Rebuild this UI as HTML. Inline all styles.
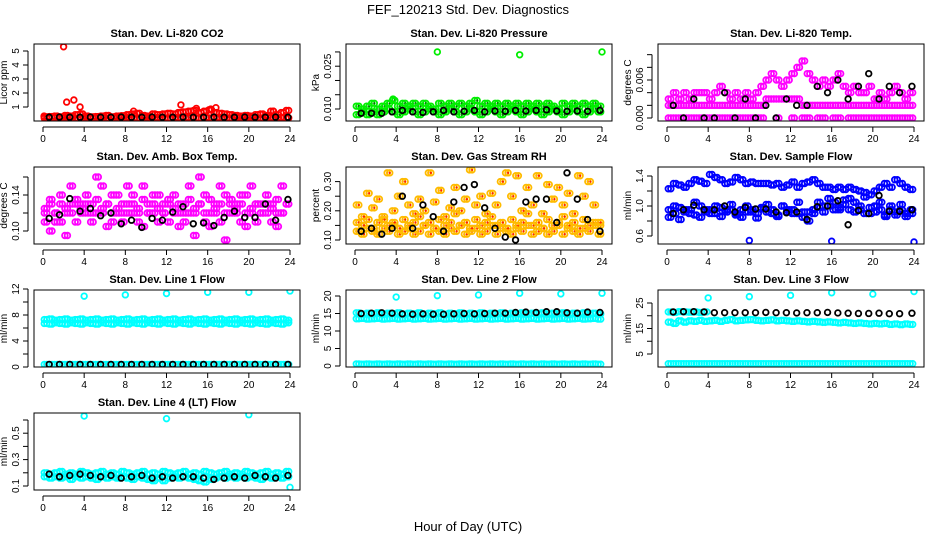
<!DOCTYPE html>
<html><head><meta charset="utf-8"><style>
body{margin:0;background:#fff;}
svg{display:block;font-family:"Liberation Sans",sans-serif;}
</style></head><body>
<svg id="c" width="936" height="540" viewBox="0 0 936 540">
<text x="468" y="14" text-anchor="middle" font-size="13">FEF_120213  Std. Dev. Diagnostics</text>
<text x="468" y="531" text-anchor="middle" font-size="13">Hour of Day (UTC)</text>
</svg>
<script>
// shared time grids (hours)
const hours48 = [0.25,0.75,1.25,1.75,2.25,2.75,3.25,3.75,4.25,4.75,5.25,5.75,6.25,6.75,7.25,7.75,8.25,8.75,9.25,9.75,10.25,10.75,11.25,11.75,12.25,12.75,13.25,13.75,14.25,14.75,15.25,15.75,16.25,16.75,17.25,17.75,18.25,18.75,19.25,19.75,20.25,20.75,21.25,21.75,22.25,22.75,23.25,23.75];
const hoursB = [0.6,1.6,2.6,3.6,4.6,5.6,6.6,7.6,8.6,9.6,10.6,11.6,12.6,13.6,14.6,15.6,16.6,17.6,18.6,19.6,20.6,21.6,22.6,23.8];
const xTicks = [0,4,8,12,16,20,24];

// CO2
const co2A = [0.3,0.32,0.35,0.3,0.4,0.35,0.45,0.5,0.35,0.3,0.32,0.35,0.4,0.3,0.35,0.38,0.45,0.5,0.55,0.4,0.35,0.5,0.45,0.5,0.55,0.5,0.6,0.65,0.7,0.75,0.6,0.7,0.8,0.6,0.55,0.5,0.45,0.4,0.35,0.4,0.35,0.45,0.5,0.4,0.7,0.45,0.6,0.75];
const co2B = [0.2,0.22,0.25,0.2,0.25,0.22,0.2,0.25,0.22,0.2,0.25,0.22,0.2,0.25,0.22,0.2,0.25,0.22,0.2,0.25,0.22,0.2,0.25,0.22,0.2,0.25,0.22,0.2,0.25,0.22,0.2,0.25,0.22,0.2,0.25,0.22,0.2,0.25,0.22,0.2,0.25,0.22,0.2,0.25,0.22,0.2,0.25,0.22];
const co2K = [0.27,0.28,0.27,0.27,0.28,0.27,0.27,0.28,0.27,0.27,0.28,0.27,0.27,0.28,0.27,0.27,0.28,0.27,0.27,0.28,0.27,0.27,0.28,0.27];
const co2OutX = [2,2.3,3,3.6,13.4,14.9,16.3,16.8,0.1,8.8,22.4];
const co2OutY = [5.3,1.35,1.5,1.0,1.15,0.9,0.85,0.95,0.35,0.7,0.7];

// Pressure
const prA = [0.011,0.010,0.011,0.012,0.010,0.011,0.012,0.013,0.011,0.012,0.011,0.012,0.011,0.012,0.011,0.010,0.012,0.011,0.012,0.011,0.012,0.011,0.012,0.013,0.011,0.012,0.011,0.012,0.011,0.012,0.011,0.012,0.011,0.012,0.011,0.012,0.011,0.012,0.011,0.010,0.012,0.011,0.012,0.011,0.012,0.011,0.012,0.011];
const prB = [0.008,0.009,0.008,0.009,0.008,0.009,0.010,0.009,0.008,0.009,0.010,0.009,0.008,0.009,0.010,0.009,0.008,0.009,0.010,0.009,0.008,0.009,0.010,0.009,0.008,0.009,0.010,0.009,0.008,0.009,0.010,0.009,0.008,0.009,0.010,0.009,0.008,0.009,0.010,0.009,0.008,0.009,0.010,0.009,0.008,0.009,0.010,0.009];
const prK = [0.0085,0.0085,0.0085,0.0090,0.0095,0.0090,0.0088,0.0090,0.0095,0.0090,0.0092,0.0095,0.0090,0.0093,0.0092,0.0095,0.0093,0.0095,0.0097,0.0093,0.0092,0.0093,0.0092,0.0095];
const prOutX = [8,16,24,3.7];
const prOutY = [0.030,0.029,0.030,0.0135];

// Li-820 Temp
const tpA = [0,0,0,0,0,0,0,0,0,0,0,0,0,0,0,0,0,0,0,null,null,0,null,null,0,null,0,0,null,0,0,null,0,0,null,0,0,0,0,0,0,0,0,0,0,0,0,0];
const tpB = [0.002,0.002,0.002,0.002,0.002,0.002,0.002,0.002,0.002,0.002,0.002,0.002,0.002,0.002,0.002,0.002,0.002,0.002,0.002,0.003,0.003,0.003,0.003,0.003,0.003,0.003,0.002,0.002,0.002,0.002,0.002,0.002,0.002,0.002,0.002,0.002,0.002,0.002,0.002,0.002,0.002,0.002,0.002,0.002,0.002,0.002,0.002,0.002];
const tpC = [0.003,0.004,0.003,0.004,0.003,0.004,0.004,0.004,0.003,0.004,0.005,0.004,0.003,0.004,0.003,0.004,0.003,0.004,0.005,0.006,0.007,0.006,0.005,0.006,0.007,0.008,0.009,0.007,0.006,0.005,0.006,0.005,0.006,0.007,0.005,0.004,0.005,0.004,0.004,0.005,0.003,0.004,0.003,0.004,0.005,0.004,0.003,0.004];
const tpK = [0.002,0,0.003,0,0,0.004,0,0.003,0,0.002,0,0.003,0.002,0.002,0.005,0.004,0.006,0.003,0.005,0.007,0.003,0.005,0.004,0.005];

// Amb box temp
const abA = [0.12,0.13,0.11,0.14,0.12,0.15,0.13,0.12,0.14,0.13,0.12,0.15,0.13,0.12,0.14,0.12,0.13,0.14,0.12,0.15,0.13,0.12,0.14,0.12,0.13,0.14,0.12,0.13,0.15,0.12,0.13,0.14,0.12,0.13,0.15,0.14,0.12,0.13,0.14,0.12,0.15,0.13,0.12,0.14,0.13,0.12,0.15,0.13];
const abB = [0.11,0.10,0.12,0.11,0.095,0.12,0.11,0.13,0.12,0.11,0.16,0.12,0.105,0.11,0.12,0.11,0.15,0.12,0.11,0.105,0.12,0.14,0.11,0.12,0.11,0.12,0.105,0.11,0.12,0.095,0.16,0.11,0.105,0.12,0.11,0.09,0.13,0.12,0.11,0.105,0.12,0.11,0.13,0.12,0.11,0.105,0.12,0.08];
const abC = [0.125,0.135,0.12,0.13,0.125,0.13,0.135,0.125,0.13,0.12,0.135,0.125,0.13,0.14,0.125,0.13,0.12,0.13,0.125,0.135,0.12,0.13,0.125,0.13,0.135,0.125,0.13,0.12,0.135,0.125,0.13,0.12,0.135,0.125,0.13,0.12,0.135,0.125,0.13,0.14,0.125,0.13,0.12,0.13,0.125,0.135,0.12,0.13];
const abK = [0.114,0.118,0.136,0.122,0.125,0.117,0.12,0.108,0.112,0.104,0.114,0.112,0.121,0.127,0.108,0.109,0.106,0.115,0.122,0.115,0.115,0.13,0.112,0.135];

// Gas stream RH
const rhA = [0.13,0.12,0.14,0.13,0.12,0.14,0.13,0.15,0.12,0.13,0.14,0.12,0.13,0.15,0.12,0.14,0.13,0.12,0.14,0.13,0.15,0.12,0.13,0.14,0.12,0.13,0.15,0.12,0.14,0.13,0.12,0.14,0.13,0.15,0.12,0.13,0.14,0.12,0.13,0.15,0.12,0.14,0.13,0.12,0.14,0.13,0.15,0.12];
const rhB = [0.22,0.18,0.26,0.21,0.24,0.17,0.33,0.2,0.25,0.3,0.22,0.19,0.24,0.2,0.33,0.23,0.27,0.18,0.21,0.28,0.2,0.24,0.34,0.22,0.25,0.19,0.26,0.22,0.3,0.33,0.25,0.32,0.2,0.28,0.22,0.32,0.19,0.29,0.24,0.28,0.22,0.26,0.19,0.32,0.25,0.3,0.22,0.16];
const rhC = [0.16,0.15,0.17,0.14,0.16,0.18,0.15,0.16,0.14,0.17,0.15,0.16,0.18,0.15,0.16,0.14,0.17,0.15,0.16,0.19,0.15,0.16,0.14,0.17,0.15,0.16,0.18,0.15,0.16,0.14,0.17,0.15,0.16,0.19,0.15,0.16,0.14,0.17,0.15,0.16,0.18,0.15,0.16,0.14,0.17,0.15,0.16,0.15];
const rhK = [0.13,0.14,0.12,0.14,0.25,0.14,0.22,0.18,0.13,0.23,0.28,0.29,0.21,0.14,0.11,0.1,0.23,0.24,0.24,0.16,0.33,0.24,0.17,0.13];

// Sample flow
const sfA = [1.23,1.3,1.28,1.25,1.3,1.35,1.33,1.3,1.42,1.38,1.35,1.3,1.32,1.38,1.35,1.3,1.32,1.3,1.3,1.3,1.28,1.3,1.25,1.28,1.32,1.25,1.3,1.32,1.35,1.3,1.25,1.25,1.22,1.25,1.22,1.25,1.22,1.2,1.18,1.15,1.2,1.25,1.3,1.25,1.35,1.3,1.25,1.22];
const sfB = [0.95,0.9,0.98,0.92,0.95,0.88,1.0,0.92,0.95,0.9,0.98,0.92,0.95,0.88,0.95,0.92,0.95,0.9,0.98,0.92,0.95,0.88,1.0,0.92,0.95,0.9,0.85,0.92,0.95,0.98,0.92,1.0,0.95,0.98,1.02,0.95,0.92,0.95,0.9,0.98,0.92,0.95,0.88,0.95,0.92,0.95,0.9,0.95];
const sfC = [0.85,1.0,0.82,0.95,0.9,1.05,0.85,0.95,0.9,1.0,0.86,0.95,1.02,0.9,0.85,1.0,0.92,0.84,0.96,1.02,0.9,0.86,1.0,0.95,0.9,1.05,0.92,0.8,0.9,1.05,1.0,1.1,1.05,0.95,1.08,1.1,1.05,1.0,1.12,0.9,1.0,1.05,0.86,1.0,0.88,1.02,0.86,0.9];
const sfK = [0.9,0.95,1.01,0.95,0.95,1.0,0.92,0.98,0.96,0.96,0.92,0.91,0.92,0.82,0.99,1.0,1.07,0.75,0.94,0.9,1.14,0.93,0.93,0.95];
const sfOutX = [8,16,24];
const sfOutY = [0.54,0.53,0.52];

// Line 1 flow
const l1A = [7.3,7.4,7.2,7.3,7.4,7.2,7.3,7.4,7.2,7.3,7.4,7.2,7.3,7.4,7.2,7.3,7.4,7.2,7.3,7.4,7.2,7.3,7.4,7.2,7.3,7.4,7.2,7.3,7.4,7.2,7.3,7.4,7.2,7.3,7.4,7.2,7.3,7.4,7.2,7.3,7.4,7.2,7.3,7.4,7.2,7.3,7.4,7.2];
const l1B = [6.7,6.6,6.8,6.7,6.6,6.8,6.7,6.6,6.8,6.7,6.6,6.8,6.7,6.6,6.8,6.7,6.6,6.8,6.7,6.6,6.8,6.7,6.6,6.8,6.7,6.6,6.8,6.7,6.6,6.8,6.7,6.6,6.8,6.7,6.6,6.8,6.7,6.6,6.8,6.7,6.6,6.8,6.7,6.6,6.8,6.7,6.6,6.8];
const l1L = [0.4,0.4,0.4,0.4,0.4,0.4,0.4,0.4,0.4,0.4,0.4,0.4,0.4,0.4,0.4,0.4,0.4,0.4,0.4,0.4,0.4,0.4,0.4,0.4,0.4,0.4,0.4,0.4,0.4,0.4,0.4,0.4,0.4,0.4,0.4,0.4,0.4,0.4,0.4,0.4,0.4,0.4,0.4,0.4,0.4,0.4,0.4,0.4];
const l1K = [0.4,0.4,0.4,0.4,0.4,0.4,0.4,0.4,0.4,0.4,0.4,0.4,0.4,0.4,0.4,0.4,0.4,0.4,0.4,0.4,0.4,0.4,0.4,0.4];
const l1OutX = [4,8,12,16,20,24];
const l1OutY = [10.9,11.1,11.3,11.5,11.5,11.7];

// Line 2 flow
const l2A = [13.5,13.6,13.4,13.5,13.6,13.4,13.5,13.6,13.4,13.5,13.6,13.4,13.5,13.6,13.4,13.5,13.6,13.4,13.5,13.6,13.4,13.5,13.6,13.4,13.5,13.6,13.4,13.5,13.6,13.4,13.5,13.6,13.4,13.5,13.6,13.4,13.5,13.6,13.4,13.5,13.6,13.4,13.5,13.6,13.4,13.5,13.6,13.4];
const l2B = [15.2,14.8,15.1,14.9,15.2,14.8,15.1,14.9,15.2,14.8,15.1,14.9,15.2,14.8,15.1,14.9,15.2,14.8,15.1,14.9,15.2,14.8,15.1,14.9,15.2,14.8,15.1,14.9,15.2,14.8,15.1,14.9,15.2,14.8,15.1,14.9,15.2,14.8,15.1,14.9,15.2,14.8,15.1,14.9,15.2,14.8,15.1,14.9];
const l2L = [0.6,0.5,0.6,0.5,0.6,0.5,0.6,0.5,0.6,0.5,0.6,0.5,0.6,0.5,0.6,0.5,0.6,0.5,0.6,0.5,0.6,0.5,0.6,0.5,0.6,0.5,0.6,0.5,0.6,0.5,0.6,0.5,0.6,0.5,0.6,0.5,0.6,0.5,0.6,0.5,0.6,0.5,0.6,0.5,0.6,0.5,0.6,0.5];
const l2K = [15,15.1,15.2,15.1,14.9,14.8,14.9,14.8,14.8,14.9,15,14.9,15,15.1,15.1,15.3,15.4,15.3,15.5,15.5,15.2,15.1,15.4,15.3];
const l2OutX = [4,8,12,16,20,24];
const l2OutY = [19.7,20.1,20.3,20.8,20.6,20.8];

// Line 3 flow
const l3A = [21.5,21.3,21.6,21.5,21.4,21.5,21.3,21.5,null,null,null,null,null,null,null,null,null,null,null,null,null,null,null,null,null,null,null,null,null,null,null,null,null,null,null,null,null,null,null,null,null,null,null,null,null,null,null,null];
const l3B = [17.5,17,18,17.5,18,17.8,18.2,17.8,18,18.2,17.8,18.2,18.5,18,18.2,18.4,18.5,18.2,18,18.2,18.4,18,18.2,18,17.8,18,17.8,17.6,17.8,17.6,17.4,17.6,17.4,17.2,17.4,17.2,17,17.2,17,16.8,17,16.8,17,16.6,16.8,16.5,16.8,16.6];
const l3L = [1.2,1.2,1.2,1.2,1.2,1.2,1.2,1.2,1.2,1.2,1.2,1.2,1.2,1.2,1.2,1.2,1.2,1.2,1.2,1.2,1.2,1.2,1.2,1.2,1.2,1.2,1.2,1.2,1.2,1.2,1.2,1.2,1.2,1.2,1.2,1.2,1.2,1.2,1.2,1.2,1.2,1.2,1.2,1.2,1.2,1.2,1.2,1.2];
const l3K = [21.5,21.6,21.6,21.5,21.2,21.2,21.2,21.2,21.2,21.3,21.2,21.2,21.1,21.2,21.2,21.3,21.1,21,20.9,20.9,21,20.8,20.8,21];
const l3OutX = [4,8,12,16,20,24];
const l3OutY = [27,27.5,28,29,28.5,29.5];

// Line 4 flow
const l4A = [0.2,0.19,0.2,0.21,0.19,0.2,0.19,0.21,0.2,0.19,0.2,0.21,0.19,0.2,0.19,0.21,0.2,0.19,0.2,0.21,0.19,0.2,0.19,0.21,0.2,0.19,0.2,0.21,0.19,0.2,0.19,0.21,0.2,0.19,0.2,0.21,0.19,0.2,0.19,0.21,0.2,0.19,0.2,0.21,0.19,0.2,0.19,0.21];
const l4B = [0.17,0.16,0.17,0.16,0.17,0.15,0.17,0.16,0.17,0.16,0.15,0.17,0.16,0.17,0.16,0.17,0.16,0.15,0.17,0.16,0.15,0.14,0.16,0.14,0.16,0.17,0.16,0.17,0.16,0.15,0.14,0.13,0.15,0.16,0.17,0.16,0.17,0.16,0.17,0.16,0.17,0.16,0.15,0.17,0.16,0.17,0.16,0.17];
const l4K = [0.19,0.17,0.18,0.19,0.18,0.17,0.18,0.16,0.17,0.18,0.16,0.17,0.16,0.17,0.17,0.16,0.15,0.16,0.17,0.16,0.18,0.17,0.16,0.18];
const l4OutX = [4,12,20,24];
const l4OutY = [0.63,0.61,0.64,0.09];

const svg = document.getElementById('c');
const NS = 'http://www.w3.org/2000/svg';
function mk(tag, attrs, parent){ const e=document.createElementNS(NS,tag); for(const k in attrs) e.setAttribute(k,attrs[k]); (parent||svg).appendChild(e); return e; }

function panel(cfg){
  const g = mk('g',{});
  
  
  const L=cfg.left, R=cfg.left+266, T=cfg.top, B=cfg.top+77;
  const x = h => L+9 + h*(247/24);
  const y = v => cfg.y0px - (v-cfg.v0)*cfg.pxPerUnit;
  const t = mk('text',{x:(L+R)/2,y:T-7,'text-anchor':'middle','font-size':11,'font-weight':'bold'},g);
  t.textContent = cfg.title;
  
  
  mk('line',{x1:x(0),x2:x(24),y1:B+6,y2:B+6,stroke:'#000','stroke-width':1},g);
  xTicks.forEach(v=>{
    mk('line',{x1:x(v),x2:x(v),y1:B+6,y2:B+11,stroke:'#000'},g);
    const tl=mk('text',{x:x(v),y:B+21,'text-anchor':'middle','font-size':10},g); tl.textContent=v;
    
    
  });
  const yt = cfg.yticks;
  mk('line',{x1:L-6,x2:L-6,y1:y(yt[0]),y2:y(yt[yt.length-1]),stroke:'#000'},g);
  yt.forEach((v,i)=>{
    mk('line',{x1:L-11,x2:L-6,y1:y(v),y2:y(v),stroke:'#000'},g);
    if(cfg.ylabels[i]){ const tl=mk('text',{x:0,y:0,'text-anchor':'middle','font-size':10,transform:`translate(${L-15},${y(v)}) rotate(-90)`},g); tl.textContent=cfg.ylabels[i];
      
       }
  });
  const yl=mk('text',{x:0,y:0,'text-anchor':'middle','font-size':10,transform:`translate(${L-27},${(T+B)/2}) rotate(-90)`},g);
  yl.textContent=cfg.ylab;
  
  
  const cid='clip'+cfg.name;
  const cp=mk('clipPath',{id:cid},g); mk('rect',{x:L,y:T,width:266,height:77},cp);
  const pg=mk('g',{'clip-path':`url(#${cid})`},g);
  cfg.series.forEach(s=>{
    const sg=mk('g',{},pg);
    
    
    const offs = s.dense ? [-0.125,0.125] : [0];
    s.ys.forEach((v,i)=>{
      if(v===null||v===undefined) return;
      offs.forEach(o=>{
        const c=mk('circle',{cx:x(s.xs[i]+o),cy:y(v),r:2.8,fill:'none',stroke:s.color,'stroke-width':1.8},sg);
        
        
        if(s.inner){ mk('circle',{cx:x(s.xs[i]+o),cy:y(v),r:1.1,fill:s.inner},sg); }
      });
    });
  });
  mk('rect',{x:L,y:T,width:266,height:77,fill:'none',stroke:'#000','stroke-width':1},g);
}

const C1=34, C2=346, C3=658, R1=44, R2=167, R3=290, R4=413;
panel({name:'panel-co2',title:'Stan. Dev. Li-820 CO2',left:C1,top:R1,y0px:121,v0:0,pxPerUnit:14,yticks:[1,2,3,4,5],ylabels:['1','2','3','4','5'],ylab:'Licor ppm',
  series:[{name:'co2-series-a',xs:hours48,ys:co2A,color:'#f00',dense:true},{name:'co2-series-b',xs:hours48,ys:co2B,color:'#f00',dense:true},{name:'co2-outliers',xs:co2OutX,ys:co2OutY,color:'#f00'},{name:'co2-black',xs:hoursB,ys:co2K,color:'#000'}]});
panel({name:'panel-pressure',title:'Stan. Dev. Li-820 Pressure',left:C2,top:R1,y0px:109,v0:0.010,pxPerUnit:2853,yticks:[0.010,0.015,0.020,0.025,0.030],ylabels:['0.010','','','0.025',''],ylab:'kPa',
  series:[{name:'pressure-series-a',xs:hours48,ys:prA,color:'#0e0',inner:'#060',dense:true},{name:'pressure-series-b',xs:hours48,ys:prB,color:'#0e0',inner:'#060',dense:true},{name:'pressure-outliers',xs:prOutX,ys:prOutY,color:'#0e0'},{name:'pressure-black',xs:hoursB,ys:prK,color:'#000'}]});
panel({name:'panel-li820-temp',title:'Stan. Dev. Li-820 Temp.',left:C3,top:R1,y0px:118,v0:0,pxPerUnit:6333,yticks:[0,0.002,0.004,0.006,0.008,0.010],ylabels:['0.000','','','0.006','',''],ylab:'degrees C',
  series:[{name:'temp-series-a',xs:hours48,ys:tpA,color:'#f0f',dense:true},{name:'temp-series-b',xs:hours48,ys:tpB,color:'#f0f',dense:true},{name:'temp-series-c',xs:hours48,ys:tpC,color:'#f0f',dense:true},{name:'temp-black',xs:hoursB,ys:tpK,color:'#000'}]});
panel({name:'panel-amb-box-temp',title:'Stan. Dev. Amb. Box Temp.',left:C1,top:R2,y0px:231,v0:0.10,pxPerUnit:900,yticks:[0.10,0.12,0.14,0.16],ylabels:['0.10','','0.14',''],ylab:'degrees C',
  series:[{name:'amb-series-a',xs:hours48,ys:abA,color:'#f0f',dense:true},{name:'amb-series-b',xs:hours48,ys:abB,color:'#f0f',dense:true},{name:'amb-series-c',xs:hours48,ys:abC,color:'#f0f',dense:true},{name:'amb-black',xs:hoursB,ys:abK,color:'#000'}]});
panel({name:'panel-gas-rh',title:'Stan. Dev. Gas Stream RH',left:C2,top:R2,y0px:240,v0:0.10,pxPerUnit:292,yticks:[0.10,0.15,0.20,0.25,0.30],ylabels:['0.10','','0.20','','0.30'],ylab:'percent',
  series:[{name:'rh-series-a',xs:hours48,ys:rhA,color:'#fb0',inner:'#f20',dense:true},{name:'rh-series-c',xs:hours48,ys:rhC,color:'#fb0',inner:'#f20',dense:true},{name:'rh-series-b',xs:hours48,ys:rhB,color:'#fb0',inner:'#f20',dense:true},{name:'rh-black',xs:hoursB,ys:rhK,color:'#000'}]});
panel({name:'panel-sample-flow',title:'Stan. Dev. Sample Flow',left:C3,top:R2,y0px:206,v0:1.0,pxPerUnit:75,yticks:[0.6,0.8,1.0,1.2,1.4],ylabels:['0.6','','1.0','','1.4'],ylab:'ml/min',
  series:[{name:'sample-series-a',xs:hours48,ys:sfA,color:'#00f',dense:true},{name:'sample-series-b',xs:hours48,ys:sfB,color:'#00f',dense:true},{name:'sample-series-c',xs:hours48,ys:sfC,color:'#00f',dense:true},{name:'sample-outliers',xs:sfOutX,ys:sfOutY,color:'#00f'},{name:'sample-black',xs:hoursB,ys:sfK,color:'#000'}]});
panel({name:'panel-line1-flow',title:'Stan. Dev. Line 1 Flow',left:C1,top:R3,y0px:367,v0:0,pxPerUnit:6.5,yticks:[0,2,4,6,8,10,12],ylabels:['0','','4','','8','','12'],ylab:'ml/min',
  series:[{name:'line1-series-a',xs:hours48,ys:l1A,color:'#0ff',dense:true},{name:'line1-series-b',xs:hours48,ys:l1B,color:'#0ff',dense:true},{name:'line1-low',xs:hours48,ys:l1L,color:'#0ff',dense:true},{name:'line1-outliers',xs:l1OutX,ys:l1OutY,color:'#0ff'},{name:'line1-black',xs:hoursB,ys:l1K,color:'#000'}]});
panel({name:'panel-line2-flow',title:'Stan. Dev. Line 2 Flow',left:C2,top:R3,y0px:366,v0:0,pxPerUnit:3.5,yticks:[0,5,10,15,20],ylabels:['0','5','10','15','20'],ylab:'ml/min',
  series:[{name:'line2-series-a',xs:hours48,ys:l2A,color:'#0ff',dense:true},{name:'line2-series-b',xs:hours48,ys:l2B,color:'#0ff',dense:true},{name:'line2-low',xs:hours48,ys:l2L,color:'#0ff',dense:true},{name:'line2-outliers',xs:l2OutX,ys:l2OutY,color:'#0ff'},{name:'line2-black',xs:hoursB,ys:l2K,color:'#000'}]});
panel({name:'panel-line3-flow',title:'Stan. Dev. Line 3 Flow',left:C3,top:R3,y0px:354,v0:5,pxPerUnit:2.55,yticks:[5,10,15,20,25],ylabels:['5','','15','','25'],ylab:'ml/min',
  series:[{name:'line3-series-a',xs:hours48,ys:l3A,color:'#0ff',dense:true},{name:'line3-series-b',xs:hours48,ys:l3B,color:'#0ff',dense:true},{name:'line3-low',xs:hours48,ys:l3L,color:'#0ff',dense:true},{name:'line3-outliers',xs:l3OutX,ys:l3OutY,color:'#0ff'},{name:'line3-black',xs:hoursB,ys:l3K,color:'#000'}]});
panel({name:'panel-line4-flow',title:'Stan. Dev. Line 4 (LT) Flow',left:C1,top:R4,y0px:486,v0:0.1,pxPerUnit:132,yticks:[0.1,0.2,0.3,0.4,0.5,0.6],ylabels:['0.1','','0.3','','0.5',''],ylab:'ml/min',
  series:[{name:'line4-series-a',xs:hours48,ys:l4A,color:'#0ff',dense:true},{name:'line4-series-b',xs:hours48,ys:l4B,color:'#0ff',dense:true},{name:'line4-outliers',xs:l4OutX,ys:l4OutY,color:'#0ff'},{name:'line4-black',xs:hoursB,ys:l4K,color:'#000'}]});
</script>
</body></html>
